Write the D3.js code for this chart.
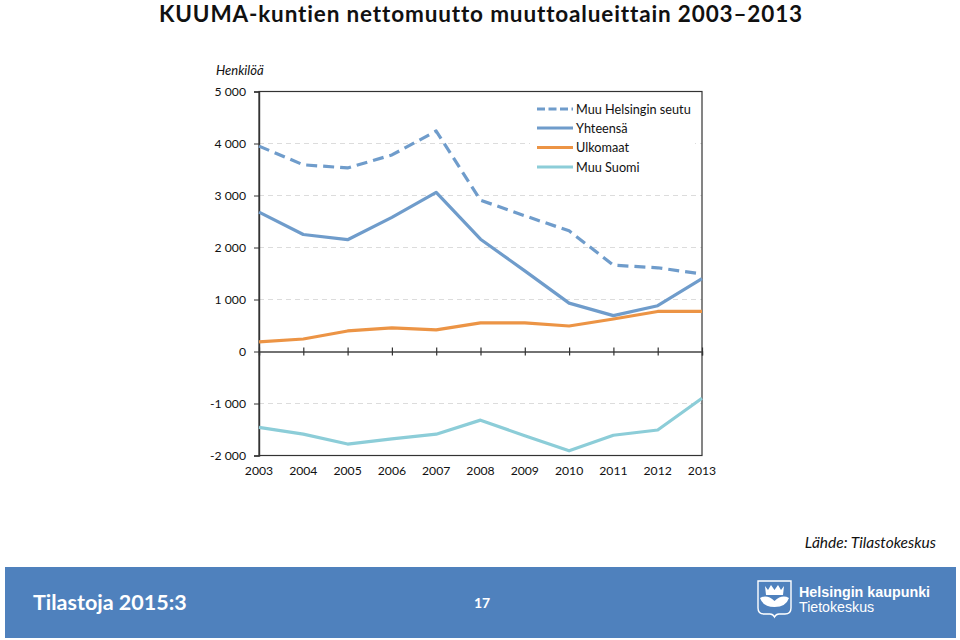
<!DOCTYPE html>
<html><head><meta charset="utf-8">
<script src="https://cdn.jsdelivr.net/npm/d3@7/dist/d3.min.js"></script>
<style>
html,body{margin:0;padding:0;background:#fff}
svg{display:block}
text{font-family:Lato,"Open Sans",sans-serif;fill:#111}
</style></head><body>
<svg id="c" width="960" height="640"></svg>
<script>
const years=[2003,2004,2005,2006,2007,2008,2009,2010,2011,2012,2013];
const muuHelsinki=[3950,3590,3530,3780,4240,2910,2610,2320,1660,1610,1490];
const yhteensa=[2680,2250,2150,2580,3060,2160,1550,930,690,880,1400];
const ulkomaat=[185,240,395,455,415,550,550,490,625,770,770];
const muuSuomi=[-1460,-1590,-1780,-1680,-1590,-1320,-1620,-1910,-1610,-1510,-900];
const yTicks=[-2000,-1000,0,1000,2000,3000,4000,5000];
const seriesNames=["Muu Helsingin seutu","Yhteensä","Ulkomaat","Muu Suomi"];
const seriesValues=[muuHelsinki,yhteensa,ulkomaat,muuSuomi];
const seriesColors=["#6f9ccb","#6f9ccb","#ec9445","#8ccdd8"];
const seriesDash=["11 6",null,null,null];

const svg=d3.select("#c");
const x=d3.scalePoint().domain(years).range([259,702]);
const y=d3.scaleLinear().domain([-2000,5000]).range([455.5,91.5]);
const fmt=v=>{const a=Math.abs(v),s=a>=1000?Math.floor(a/1000)+"\u00a0"+String(a%1000).padStart(3,"0"):String(a);return (v<0?"-":"")+s;};

svg.append("text").attr("x",481).attr("y",22).attr("text-anchor","middle")
  .attr("font-size",22.5).attr("font-weight",700).attr("letter-spacing",0.85)
  .text("KUUMA-kuntien nettomuutto muuttoalueittain 2003\u20132013");
svg.append("text").attr("x",216).attr("y",75).attr("font-size",13).attr("font-style","italic").attr("font-weight",400).text("Henkilöä");

// gridlines
svg.append("g").selectAll("line").data(yTicks.filter(d=>d!==0&&d!==5000&&d!==-2000)).join("line")
  .attr("x1",259).attr("x2",702).attr("y1",d=>y(d)).attr("y2",d=>y(d))
  .attr("stroke","#dcdcdc").attr("stroke-width",1).attr("stroke-dasharray","5 4");

// plot frame
svg.append("rect").attr("x",259).attr("y",91.5).attr("width",443).attr("height",364)
  .attr("fill","none").attr("stroke","#333").attr("stroke-width",1.2);

// left axis
const ay=svg.append("g").attr("transform","translate(259,0)")
  .call(d3.axisLeft(y).tickValues(yTicks).tickFormat(fmt).tickSize(5).tickPadding(8));
ay.select(".domain").attr("stroke","#333").attr("stroke-width",1.4);
ay.selectAll("line").attr("stroke","#333");
ay.selectAll("text").attr("font-size",12.2).style("font-family","Lato").attr("fill","#111");

// zero axis with crossing ticks
const ax=svg.append("g").attr("transform",`translate(0,${y(0)})`)
  .call(d3.axisBottom(x).tickSize(4).tickFormat(""));
ax.select(".domain").attr("stroke","#444").attr("stroke-width",1.4);
ax.selectAll("line").attr("y1",-4).attr("stroke","#333").attr("stroke-width",1.2);

// year labels
svg.append("g").selectAll("text").data(years).join("text")
  .attr("x",d=>x(d)).attr("y",475).attr("text-anchor","middle").attr("font-size",12.2).text(d=>d);

// legend background
svg.append("rect").attr("x",530).attr("y",97).attr("width",165).attr("height",81).attr("fill","#fff");

// lines
const line=d3.line().x((d,i)=>x(years[i])).y(d=>y(d));
const order=[0,1,2,3];
svg.append("g").selectAll("path").data(order).join("path")
  .attr("d",i=>line(seriesValues[i])).attr("fill","none")
  .attr("stroke",i=>seriesColors[i]).attr("stroke-width",3.2)
  .attr("stroke-dasharray",i=>seriesDash[i]).attr("stroke-linejoin","round");

// legend
const lg=svg.append("g").selectAll("g").data(order).join("g")
  .attr("transform",(i)=>`translate(0,${[109,128,147.5,167][i]})`);
lg.append("line").attr("x1",537).attr("x2",573).attr("stroke",i=>seriesColors[i])
  .attr("stroke-width",3.2).attr("stroke-dasharray",i=>i===0?"8 3.5":null);
lg.append("text").attr("x",576).attr("y",4.5).attr("font-size",12.7).text(i=>seriesNames[i]);

// source
svg.append("text").attr("x",936).attr("y",548).attr("text-anchor","end").attr("font-size",15.5).attr("font-style","italic").text("Lähde: Tilastokeskus");

// footer
svg.append("rect").attr("x",5).attr("y",567).attr("width",951).attr("height",71).attr("fill","#4f81bd");
svg.append("text").attr("x",33).attr("y",610).attr("font-size",21.5).attr("font-weight",700).style("fill","#fff").text("Tilastoja 2015:3");
svg.append("text").attr("x",482).attr("y",608).attr("text-anchor","middle").attr("font-size",14).attr("font-weight",700).style("fill","#fff").text("17");

// logo
const logo=svg.append("g");
logo.append("path").attr("d","M758 581H791V608Q791 614 785 614H779Q776 614 774.500 617Q773 614 770 614H764Q758 614 758 608Z")
  .attr("fill","#4f81bd").attr("stroke","#fff").attr("stroke-width",1.4);
logo.append("path").attr("d","M765 586L768 590L771 585L774.500 590L778 585L781 590L784 586L783 595H766Z").attr("fill","#fff");
logo.append("path").attr("d","M760 598Q767 594 774.500 601Q782 594 789 598Q786 607 774.500 607Q763 607 760 598Z").attr("fill","#fff");
svg.append("text").attr("x",799).attr("y",597).attr("font-size",14.3).attr("font-weight",700).style("fill","#fff").style("font-family","Liberation Sans").text("Helsingin kaupunki");
svg.append("text").attr("x",799).attr("y",612).attr("font-size",14.2).style("fill","#fff").style("font-family","Liberation Sans").text("Tietokeskus");
</script>
</body></html>
